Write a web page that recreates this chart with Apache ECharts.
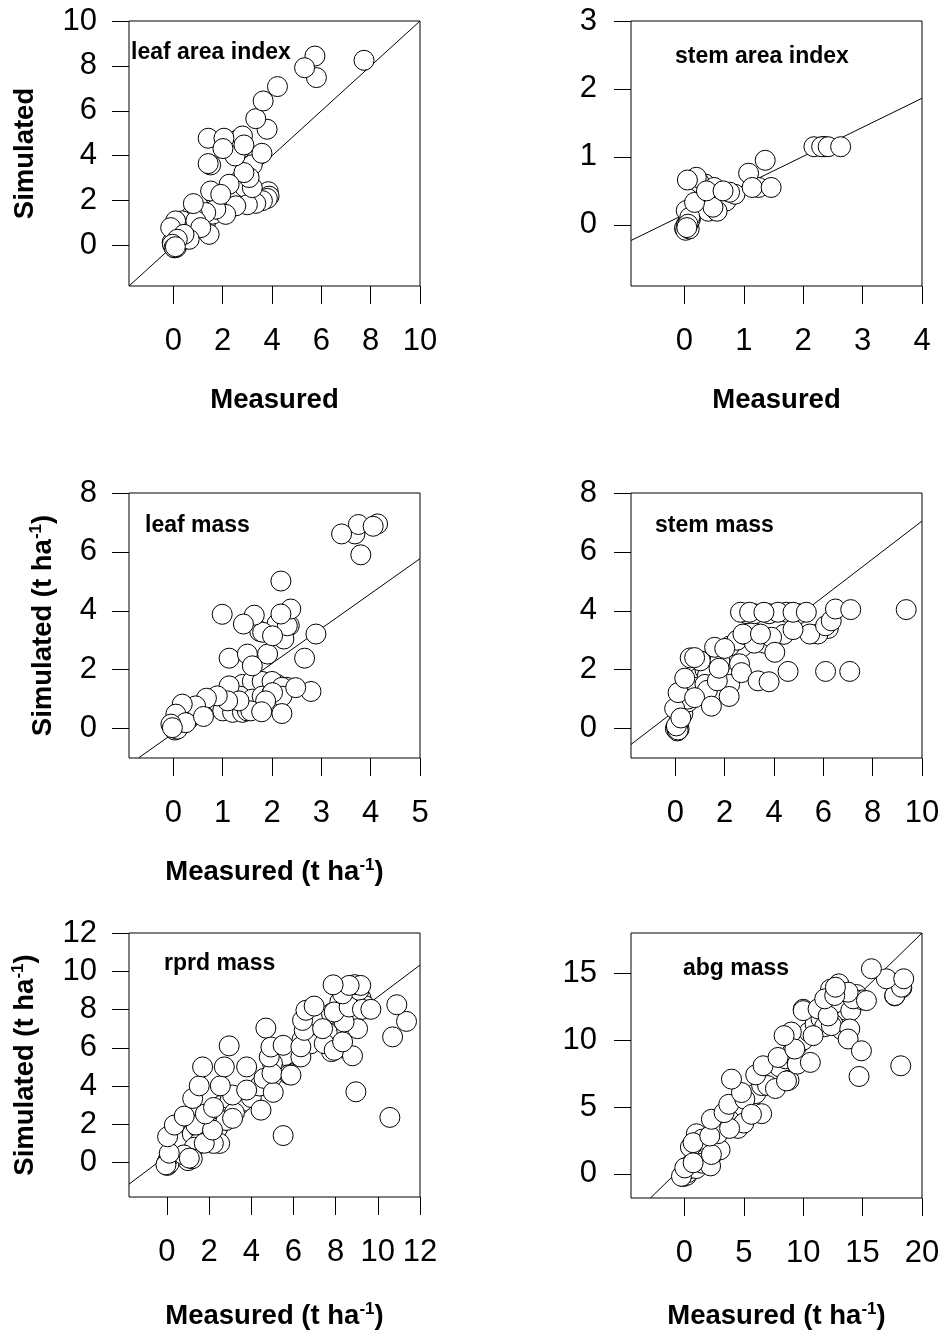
<!DOCTYPE html>
<html>
<head>
<meta charset="utf-8">
<script src="https://cdn.jsdelivr.net/npm/echarts@6/dist/echarts.min.js"></script>
<style>
  html, body { margin: 0; padding: 0; background: #fff; }
  #main { width: 947px; height: 1332px; }
</style>
</head>
<body>
<div id="main"></div>
<script>
// measured vs simulated pairs, one array per panel
const leafAreaIndex = [
  [0.0,0.0],[0.05,-0.1],[0.1,0.05],[-0.05,0.15],[0.02,-0.05],[0.06,0.02],[0.12,-0.08],[0.15,0.3],[0.3,0.2],[0.5,0.6],[0.8,1.0],[1.0,1.3],[1.3,1.0],
  [1.6,1.4],[1.8,1.9],[2.2,2.0],[2.4,2.4],[2.7,2.9],[3.0,3.4],[3.2,2.2],[3.4,2.0],[3.6,2.2],[3.75,2.1],
  [3.8,2.3],[3.85,2.4],[2.9,2.6],[2.6,4.7],[2.7,4.3],[3.2,3.6],[1.7,2.2],[2.2,1.6],
  [3.88,2.2],[3.81,2.1],[3.61,2.0],[3.34,1.88],[3.0,1.82],[2.53,1.77],[2.12,1.39],[1.72,1.62],[1.31,1.47],
  [3.20,2.58],[3.07,3.03],[2.86,3.25],[2.26,2.73],[1.51,2.43],[1.92,2.28],
  [0.77,1.39],[0.36,1.10],[0.09,1.10],[-0.11,0.80],[0.91,1.10],[0.81,1.87],
  [1.45,0.50],[1.11,0.80],[0.64,0.28],[0.43,0.50],[0.16,0.28],[-0.04,0.06],[0.03,-0.09],[0.08,-0.05],
  [1.51,3.59],[1.41,3.65],[2.50,3.99],[2.80,4.88],[2.86,4.48],[1.41,4.78],[2.05,4.78],[2.01,4.32],
  [3.59,4.11],[3.80,5.18],[3.34,5.65],[3.64,6.44],[4.22,7.08],[5.80,7.48],[5.74,8.44],[5.32,7.92],[7.73,8.25]
];
const stemAreaIndex = [
  [0.0,-0.05],[0.03,0.0],[0.06,0.05],[0.1,0.08],[0.02,-0.08],[0.08,-0.06],[0.12,0.15],[0.2,0.22],[0.3,0.35],[0.35,0.6],[0.25,0.62],
  [0.5,0.55],[0.6,0.45],[0.7,0.35],[0.4,0.2],[0.55,0.2],[0.85,0.45],[1.25,0.55],[2.33,1.15],[2.37,1.15],
  [0.03,0.21],[0.09,0.11],[0.06,0.01],[0.04,-0.04],[0.48,0.26],[0.17,0.33],[0.76,0.48],[0.2,0.7],[0.05,0.66],
  [0.37,0.50],[0.65,0.50],[1.08,0.76],[1.14,0.55],[1.46,0.55],[1.36,0.95],[2.18,1.15],[2.31,1.15],[2.42,1.15],[2.63,1.15]
];
const leafMass = [
  [0.0,0.0],[0.02,0.05],[0.05,0.1],[0.03,-0.05],[0.08,-0.02],[0.1,0.2],[0.3,0.3],[0.5,0.5],[0.7,0.7],[0.9,0.9],[1.1,1.2],[1.3,1.3],
  [1.5,1.4],[1.7,1.5],[1.9,1.5],[2.1,1.5],[2.3,1.4],[1.2,1.4],[1.4,1.5],[1.6,1.6],[1.8,1.6],[2.0,1.6],
  [2.2,1.4],[1.35,1.1],[1.6,1.0],[1.8,1.1],[2.0,1.2],[2.2,1.1],[1.0,0.6],[1.2,0.55],[1.4,0.55],[1.5,0.6],
  [2.35,3.5],[2.1,3.55],[1.75,3.3],[3.68,6.61],[4.14,6.95],
  [2.79,1.26],[2.48,1.39],[2.01,1.22],[1.13,1.45],[1.87,0.94],[1.57,0.60],[1.79,0.57],[2.20,0.51],[1.33,0.94],
  [1.10,0.94],[0.89,1.11],[0.67,1.03],[0.45,0.77],[0.18,0.83],[0.05,0.49],[0.25,0.20],[0.61,0.41],[-0.05,0.15],[-0.02,0.03],
  [2.66,2.39],[1.13,2.39],[1.50,2.53],[1.91,2.53],[1.60,2.13],[2.89,3.21],[2.24,3.04],[2.31,3.49],[1.81,3.27],
  [2.01,3.15],[2.38,4.06],[1.64,3.85],[0.99,3.88],[1.42,3.55],[2.18,3.89],[2.18,5.01],[3.80,5.90],[3.75,6.93],
  [3.41,6.61],[4.05,6.87]
];
const stemMass = [
  [0.0,0.0],[0.05,0.05],[0.08,-0.08],[0.15,-0.02],[0.1,0.15],[0.15,0.25],[0.3,0.5],[0.5,0.9],[0.7,1.3],[0.9,1.7],[1.2,2.0],[1.5,2.4],
  [1.8,2.6],[2.2,2.8],[2.5,3.0],[2.8,3.2],[3.1,3.3],[3.3,3.0],[3.6,2.9],[2.9,3.9],[3.2,3.9],[3.8,3.9],
  [4.5,3.95],[5.0,3.9],[6.2,3.4],[4.4,3.2],[3.9,3.1],[3.2,2.9],[2.6,2.2],[2.2,1.5],[1.8,2.3],[1.3,1.8],
  [0.8,1.4],[0.5,1.0],[0.6,2.4],[1.2,1.5],[1.3,1.3],
  [0.11,-0.05],[0.04,0.09],[-0.03,0.68],[0.22,0.36],[0.11,1.22],[0.78,1.05],[1.46,0.76],[2.18,1.09],[1.70,1.62],
  [0.38,1.71],[2.68,1.90],[1.77,2.05],[1.01,2.30],[0.78,2.41],[1.59,2.76],[2.00,2.72],[3.35,1.62],[3.80,1.59],
  [4.57,1.94],[6.09,1.94],[7.07,1.94],[4.03,2.59],[5.78,3.21],[5.45,3.21],[6.09,3.49],[6.32,3.66],[2.74,3.21],
  [4.77,3.36],[3.45,3.21],[2.64,3.95],[3.01,3.95],[4.16,3.95],[3.59,3.95],[4.77,3.95],[5.31,3.95],[6.49,4.06],
  [7.11,4.04],[9.36,4.04]
];
const rprdMass = [
  [0.0,0.0],[0.05,0.1],[0.02,-0.15],[0.1,-0.05],[0.1,0.3],[0.2,0.5],[0.5,0.8],[0.8,1.1],[1.2,1.5],[1.5,1.8],[1.8,2.2],[2.2,2.6],
  [2.6,3.0],[3.0,3.3],[3.4,3.0],[3.6,3.2],[2.4,1.8],[2.0,1.2],[1.5,1.0],[1.3,0.8],[2.8,2.2],[3.2,2.6],
  [4.0,3.4],[4.4,4.0],[5.0,4.5],[5.4,5.0],[5.8,4.6],[6.2,5.6],[6.4,6.4],[6.8,7.0],[7.2,7.4],[7.8,7.8],
  [8.2,8.4],[8.6,8.8],[9.2,8.6],[9.4,8.2],[8.8,7.6],[8.0,6.6],[7.6,6.8],[8.3,6.0],[7.8,5.8],[6.8,6.2],
  [5.6,5.6],[5.0,5.2],[4.6,4.4],[1.0,0.1],[1.2,0.2],[0.8,0.4],[2.5,1.0],[2.2,1.0],[9.1,9.0],[8.9,9.3],
  [-0.05,-0.12],[0.11,0.49],[1.06,0.23],[0.03,1.35],[0.35,1.96],[1.77,1.01],[1.37,1.96],[2.16,1.70],[0.82,2.43],
  [1.82,2.54],[2.21,2.88],[3.11,2.31],[4.46,2.74],[1.22,3.35],[3.11,3.53],[1.53,4.01],[2.53,4.01],[3.78,3.79],
  [5.04,3.67],[1.69,5.00],[2.72,5.00],[3.78,5.00],[2.95,6.10],[4.98,4.66],[5.88,4.57],[4.85,5.52],[4.93,6.04],
  [5.51,6.13],[4.69,7.03],[6.35,5.52],[6.35,6.05],[6.51,6.91],[7.46,6.22],[7.93,5.87],[8.80,5.58],[8.33,6.31],
  [7.38,7.0],[9.04,7.0],[8.40,7.35],[6.43,7.43],[6.59,7.96],[6.98,8.18],[7.93,7.87],[8.64,8.13],[9.27,8.01],
  [9.67,8.01],[8.33,8.82],[9.19,9.26],[8.64,9.26],[7.88,9.29],[5.51,1.41],[8.96,3.70],[10.57,2.36],[10.7,6.57],
  [11.36,7.38],[10.9,8.25]
];
const abgMass = [
  [0.0,0.0],[0.1,0.1],[-0.1,-0.2],[0.2,-0.1],[0.3,0.1],[0.2,0.3],[0.4,0.6],[0.8,1.0],[1.2,1.4],[1.6,1.8],[2.0,2.2],[2.5,2.6],[3.0,3.2],
  [3.5,3.6],[4.0,4.0],[4.5,4.4],[5.0,5.0],[5.5,5.5],[6.0,6.0],[6.5,6.6],[7.0,7.2],[7.5,7.6],[8.0,8.0],
  [8.5,8.6],[9.0,9.0],[9.5,9.6],[10.0,10.0],[10.5,10.6],[11.0,11.2],[11.5,11.6],[12.0,12.0],[12.5,12.6],[13.0,12.8],
  [13.5,11.5],[14.0,12.2],[14.5,13.4],[15.0,13.0],[13.2,10.8],[12.5,11.2],[11.8,11.0],[1.0,0.4],[1.5,0.8],[2.2,0.6],
  [2.5,1.6],[0.5,2.0],[1.0,3.0],[3.0,1.8],[4.5,3.4],[5.0,3.8],[6.5,4.5],[7.0,6.6],[8.8,7.0],[9.5,8.2],
  [10.0,12.3],[12.3,13.8],[13.0,14.2],[17.7,13.3],[18.3,13.9],[1.5,2.6],[2.8,3.0],[3.8,3.4],[6.0,7.4],[9.0,10.6],
  [-0.25,-0.18],[0.03,0.45],[0.73,0.83],[2.27,1.45],[0.73,2.33],[2.13,2.83],[2.27,4.08],[3.34,4.58],[3.73,5.2],
  [5.08,5.58],[4.8,6.08],[5.64,4.45],[3.96,7.08],[6.62,8.08],[7.66,6.38],[8.59,6.95],[7.88,8.7],[9.29,9.33],
  [10.6,8.33],[8.39,10.33],[10.83,10.33],[12.37,11.08],[13.92,10.83],[13.78,10.08],[14.9,9.2],[14.70,7.28],
  [18.21,8.08],[10.0,12.2],[11.25,12.33],[12.1,11.8],[14.2,13.08],[15.32,12.95],[11.81,13.08],[13.78,13.58],
  [12.65,13.33],[12.71,13.95],[17.71,13.33],[18.27,13.95],[17.0,14.58],[18.46,14.58],[15.74,15.33]
];

const panelData = [leafAreaIndex, stemAreaIndex, leafMass, stemMass, rprdMass, abgMass];
const panelTitles = ['leaf area index', 'stem area index', 'leaf mass', 'stem mass', 'rprd mass', 'abg mass'];

// axis ranges and ticks
const xMin = [-1.8, -0.9, -0.9, -1.8, -1.8, -4.5];
const xMax = [10, 4, 5, 10, 12, 20];
const yMin = [-1.8, -0.9, -1, -1, -1.8, -1.8];
const yMax = [10, 3, 8, 8, 12, 18];
const xTicks = [[0,2,4,6,8,10], [0,1,2,3,4], [0,1,2,3,4,5], [0,2,4,6,8,10], [0,2,4,6,8,10,12], [0,5,10,15,20]];
const yTicks = [[0,2,4,6,8,10], [0,1,2,3], [0,2,4,6,8], [0,2,4,6,8], [0,2,4,6,8,10,12], [0,5,10,15]];

// fitted lines y = a + b*x
const fitIntercept = [0, 0.154, -0.16, 0.617, 0.364, 0.68];
const fitSlope = [1, 0.427, 1.186, 0.643, 0.83, 0.866];

const xNames = ['Measured', 'Measured', 'Measured (t ha{sup|-1})', '', 'Measured (t ha{sup|-1})', 'Measured (t ha{sup|-1})'];
const yNames = ['Simulated', '', 'Simulated (t ha{sup|-1})', '', 'Simulated (t ha{sup|-1})', ''];

// layout
const FONT = '"Liberation Sans", Arial, Helvetica, sans-serif';
const gridLeft = [129, 631, 129, 631, 129, 631];
const gridTop = [21, 21, 493, 493, 933, 933];
const gridW = 291, gridH = 265;
const xNameGap = [99, 99, 99, 99, 104, 103];
const yNameGap = [89, 89, 71, 89, 89, 89];
const titleX = [131, 675, 145, 655, 164, 683];
const titleY = [53, 57, 526, 526, 964, 969];

function fitSegment(i) {
  const a = fitIntercept[i], b = fitSlope[i];
  const x0 = Math.max(xMin[i], (yMin[i] - a) / b);
  const x1 = Math.min(xMax[i], (yMax[i] - a) / b);
  return [[x0, a + b * x0], [x1, a + b * x1]];
}

const nameStyle = {
  fontFamily: FONT, fontSize: 27.5, fontWeight: 'bold', color: '#000', lineHeight: 30,
  rich: {
    sup: {fontFamily: FONT, fontSize: 17, fontWeight: 'bold', color: '#000', lineHeight: 17, verticalAlign: 'top'}
  }
};
const labelStyle = {fontFamily: FONT, fontSize: 31, color: '#000', lineHeight: 31};

let grids = [], xAxes = [], yAxes = [], series = [], graphics = [];
for (let i = 0; i < 6; i++) {
  grids.push({
    left: gridLeft[i], top: gridTop[i], width: gridW, height: gridH,
    show: true, borderColor: '#000', borderWidth: 1, containLabel: false
  });
  xAxes.push({
    gridIndex: i, type: 'value', min: xMin[i], max: xMax[i], position: 'bottom',
    axisLine: {show: false, onZero: false},
    splitLine: {show: false},
    axisTick: {show: true, inside: false, length: 18, lineStyle: {color: '#000', width: 1}, customValues: xTicks[i]},
    axisLabel: Object.assign({customValues: xTicks[i], margin: 40}, labelStyle),
    name: xNames[i], nameLocation: 'middle', nameGap: xNameGap[i], nameMoveOverlap: false,
    nameTextStyle: nameStyle
  });
  yAxes.push({
    gridIndex: i, type: 'value', min: yMin[i], max: yMax[i], position: 'left',
    axisLine: {show: false, onZero: false},
    splitLine: {show: false},
    axisTick: {show: true, inside: false, length: 17, lineStyle: {color: '#000', width: 1}, customValues: yTicks[i]},
    axisLabel: Object.assign({customValues: yTicks[i], margin: i % 2 ? 34 : 32}, labelStyle),
    name: yNames[i], nameLocation: 'middle', nameGap: yNameGap[i], nameMoveOverlap: false,
    nameTextStyle: nameStyle
  });
  series.push({
    type: 'line', xAxisIndex: i, yAxisIndex: i, data: fitSegment(i),
    symbol: 'none', silent: true, z: 1,
    lineStyle: {color: '#000', width: 1}
  });
  series.push({
    type: 'scatter', xAxisIndex: i, yAxisIndex: i, data: panelData[i],
    symbol: 'circle', symbolSize: 20, z: 2, large: false,
    itemStyle: {color: '#fff', borderColor: '#000', borderWidth: 1, opacity: 1}
  });
  graphics.push({
    type: 'text', x: titleX[i], y: titleY[i], z: 10,
    style: {text: panelTitles[i], fill: '#000', font: 'bold 23px ' + FONT, verticalAlign: 'middle', align: 'left'}
  });
}

const myChart = echarts.init(document.getElementById('main'), null, {renderer: 'canvas'});
myChart.setOption({
  animation: false,
  backgroundColor: '#fff',
  grid: grids,
  xAxis: xAxes,
  yAxis: yAxes,
  series: series,
  graphic: graphics
});
</script>
</body>
</html>
